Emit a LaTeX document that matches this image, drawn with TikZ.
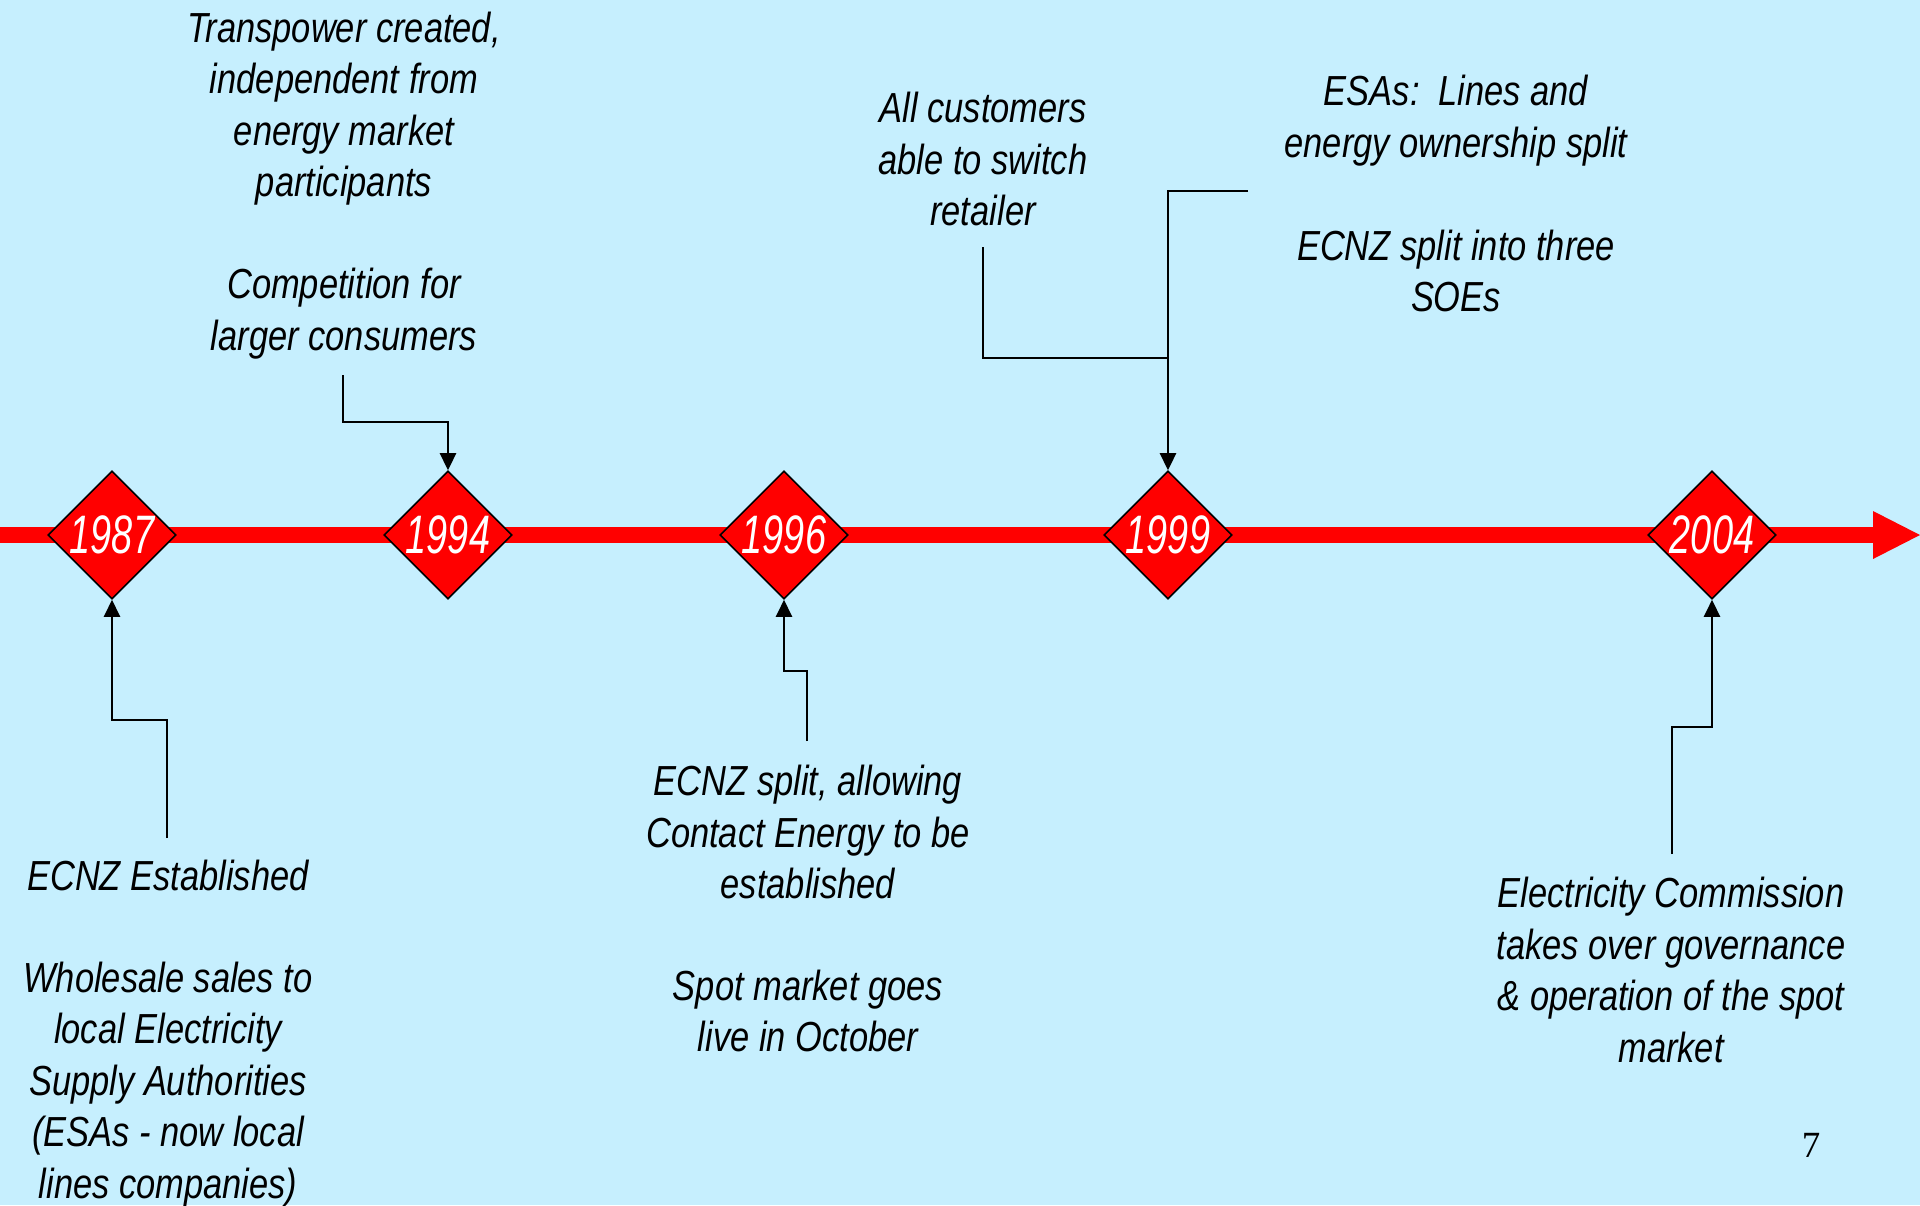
\documentclass[tikz,border=0pt]{standalone}
\usepackage{fontspec}
\usetikzlibrary{shapes.geometric,arrows.meta,calc}
\newfontfamily\nfont{Liberation Sans}[FakeStretch=0.82]
\newfontfamily\yfont{Liberation Sans}[FakeStretch=0.70]
\newfontfamily\pfont{Liberation Serif}
\definecolor{bgc}{RGB}{198,239,254}
\definecolor{tred}{RGB}{255,0,0}
\tikzset{
  txt/.style={align=center,inner sep=0pt,font=\nfont\itshape\fontsize{11.95}{14.63}\selectfont},
  yr/.style={diamond,draw=black,line width=0.015cm,fill=tred,minimum width=1.28cm,minimum height=1.28cm,inner sep=0pt,text=white,font=\yfont\itshape\fontsize{15.4}{17}\selectfont},
  conn/.style={draw=black,line width=0.025cm,-{Triangle[length=0.17cm,width=0.16cm]}},
  plain/.style={draw=black,line width=0.025cm}
}
\begin{document}
\begin{tikzpicture}[x=0.01cm,y=-0.01cm]
\useasboundingbox (0,0) rectangle (1920,1205);
\fill[bgc] (0,0) rectangle (1920,1205);
% timeline
\coordinate (tl0) at (0,535);
\coordinate (tl1) at (1875,535);
\coordinate (tip) at (1920,535);
\draw[tred,line width=0.16cm] (tl0) -- (tl1);
\fill[tred] (1873,511) -- (tip) -- (1873,559) -- cycle;
% diamonds
\node[yr] (d87) at (112,535) {1987};
\node[yr] (d94) at (448,535) {1994};
\node[yr] (d96) at (784,535) {1996};
\node[yr] (d99) at (1168,535) {1999};
\node[yr] (d04) at (1712,535) {2004};
% texts
\node[txt] (t94a) at (344,108.5) {Transpower created,\\independent from\\energy market\\participants};
\node[txt] (t94b) at (344,313.5) {Competition for\\larger consumers};
\node[txt] (t87a) at (168,875.5) {ECNZ Established};
\node[txt] (t87b) at (168,1084.5) {Wholesale sales to\\local Electricity\\Supply Authorities\\(ESAs - now local\\lines companies)};
\node[txt] (t96a) at (808,832) {ECNZ split, allowing\\Contact Energy to be\\established};
\node[txt] (t96b) at (808,1011) {Spot market goes\\live in October};
\node[txt] (t99a) at (983,159) {All customers\\able to switch\\retailer};
\node[txt] (t99b) at (1456,120.5) {ESAs:\ \ Lines and\\energy ownership split};
\node[txt] (t99c) at (1456,271) {ECNZ split into three\\SOEs};
\node[txt] (t04) at (1671,970) {Electricity Commission\\takes over governance\\\& operation of the spot\\market};
\node[inner sep=0pt,font=\pfont\fontsize{10.5}{12}\selectfont] (pg) at (1811,1145) {7};
% connector start points
\coordinate (s87) at (167,838);
\coordinate (s94) at (343,375);
\coordinate (s96) at (807,741);
\coordinate (s99a) at (983,247);
\coordinate (s99b) at (1248,191);
\coordinate (s04) at (1672,854);
% connectors
\draw[conn] (s87) |- ($(d87.south)+(0,120)$) -- (d87.south);
\draw[conn] (s94) |- ($(d94.north)+(0,-48)$) -- (d94.north);
\draw[conn] (s96) |- ($(d96.south)+(0,71)$) -- (d96.south);
\draw[plain] (s99a) |- ($(d99.north)+(0,-112)$);
\draw[conn] (s99b) -| (d99.north);
\draw[conn] (s04) |- ($(d04.south)+(0,127)$) -- (d04.south);
\end{tikzpicture}
\end{document}
